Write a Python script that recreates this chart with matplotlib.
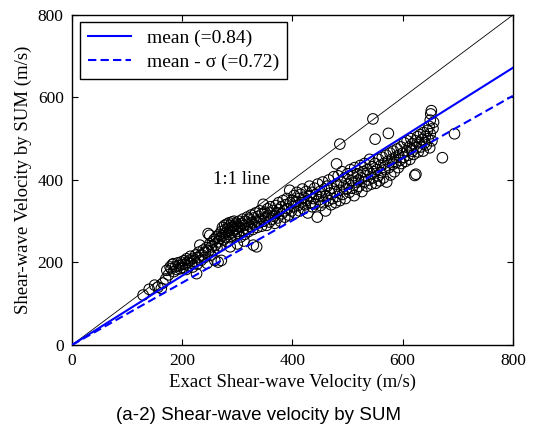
import matplotlib
matplotlib.use("Agg")
import matplotlib.pyplot as plt

# exact vs estimated shear-wave velocity (m/s)
vs_exact = [129, 140, 150, 156, 162, 165, 170, 172, 175, 178,
            180, 182, 184, 185, 188, 190, 192, 194, 196, 198, 200, 201, 203, 205, 207, 208, 210, 212, 214, 215,
            217, 219, 220, 222, 224, 226, 227, 229, 230, 232,
            234, 236, 238, 240, 242, 244, 245, 247, 248, 250, 250, 252, 253, 255, 256, 258, 259, 260, 262, 263,
            265, 265, 267, 268, 270, 271, 272, 273, 275, 276, 277, 278, 279, 280, 281, 282, 283, 284, 285, 286,
            287, 288, 289, 290, 291, 292, 293, 294, 295, 296, 297, 298, 299, 300,
            271, 287, 300, 312, 329, 335,
            302, 303, 305, 306, 308, 309, 310, 312, 313, 315, 316, 318, 319, 320, 322, 323, 325, 326, 328, 330,
            331, 333, 334, 336, 338, 339, 341, 342, 344, 345, 347, 348, 350, 351, 353, 355, 356, 358, 360, 361,
            363, 365, 366, 368, 370, 371, 373, 375, 376, 378, 380, 381, 383, 385, 386, 388, 390, 391, 393, 395,
            396, 398, 400,
            402, 403, 405, 407, 408, 410, 412, 413, 415, 416, 418, 420, 421, 423, 425, 426, 428, 430, 431, 433,
            435, 436, 438, 440, 441, 443, 445, 446, 448, 450, 451, 453, 455, 456, 458, 460, 461, 463, 465, 466,
            468, 470, 471, 473, 475, 476, 478, 480, 480, 481, 483, 485, 486, 486, 488, 490, 491, 493, 495, 496,
            498, 500,
            502, 503, 505, 507, 508, 510, 512, 513, 515, 516, 518, 520, 521, 523, 525, 526, 528, 530, 531, 533,
            535, 536, 538, 540, 541, 543, 545, 546, 546, 548, 550, 550, 551, 553, 555, 556, 558, 560, 561, 563,
            565, 566, 568, 570, 571, 573, 574, 575, 577, 578, 580, 582, 583, 585, 587, 588, 590, 592, 593, 595,
            597, 598, 600,
            602, 603, 605, 607, 608, 610, 612, 613, 615, 617, 618, 620, 622, 623, 624, 625, 627, 628, 630, 632,
            633, 635, 637, 638, 640, 641, 643, 645, 646, 648, 649, 650, 650, 651, 652, 653, 655, 656, 672, 694]
vs_sum = [121, 135, 145, 140, 137, 150, 160, 181, 170, 189,
          185, 195, 197, 178, 190, 183, 199, 192, 185, 201, 195, 188, 204, 196, 183, 209, 200, 192, 206, 215,
          198, 189, 210, 203, 218, 173, 196, 212, 225, 242,
          205, 218, 230, 212, 224, 236, 198, 270, 228, 245, 266, 218, 238, 250, 230, 256, 205, 242, 262, 235,
          201, 250, 268, 258, 240, 275, 264, 285, 255, 270, 290, 280, 262, 272, 293, 250, 283, 268, 296, 278,
          290, 260, 284, 298, 272, 287, 278, 300, 265, 290, 282, 295, 275, 288,
          205, 238, 245, 252, 242, 238,
          270, 300, 285, 262, 295, 278, 305, 290, 268, 300, 282, 310, 293, 275, 305, 288, 315, 296, 280, 308,
          292, 320, 300, 285, 312, 296, 325, 305, 288, 318, 341, 300, 322, 308, 290, 330, 314, 298, 335, 320,
          305, 326, 312, 295, 338, 320, 308, 345, 328, 300, 335, 318, 350, 325, 310, 340, 355, 330, 315, 375,
          345, 325, 350,
          335, 362, 320, 348, 370, 338, 355, 325, 365, 345, 378, 330, 358, 340, 372, 350, 320, 362, 385, 345,
          370, 335, 355, 380, 342, 365, 310, 390, 352, 372, 338, 360, 395, 345, 378, 325, 362, 385, 350, 400,
          368, 340, 380, 355, 408, 372, 345, 439, 390, 360, 410, 375, 487, 350, 395, 420, 365, 385, 405, 355,
          378, 415,
          390, 370, 425, 398, 380, 410, 362, 430, 395, 378, 415, 400, 385, 435, 405, 372, 420, 395, 440, 410,
          385, 425, 400, 450, 415, 390, 432, 548, 405, 420, 499, 440, 392, 425, 410, 450, 398, 435, 418, 455,
          405, 440, 425, 460, 395, 445, 513, 430, 465, 412, 450, 438, 470, 420, 455, 442, 475, 430, 460, 448,
          480, 440, 465,
          455, 490, 445, 470, 495, 460, 480, 450, 500, 470, 488, 462, 411, 495, 414, 478, 505, 468, 490, 510,
          480, 498, 470, 515, 490, 505, 485, 520, 500, 530, 478, 545, 512, 560, 568, 495, 525, 540, 454, 512]

ratio_mean = 0.84
ratio_low = 0.755   # drawn slope of the dashed line
line_x = [0, 800]

plt.rcParams['font.family'] = ['Liberation Serif', 'DejaVu Serif']
fig = plt.figure(figsize=(5.39, 4.28), dpi=100)
ax = fig.add_axes([0.1336, 0.194, 0.818, 0.771])

ax.scatter(vs_exact, vs_sum, s=58, facecolors='none', edgecolors='black', linewidths=0.75, zorder=2)
ax.plot(line_x, line_x, color='black', linewidth=0.6, zorder=3)
ax.plot(line_x, [ratio_mean * v for v in line_x], color='blue', linewidth=1.5,
        label='mean (=0.84)', zorder=4)
ax.plot(line_x, [ratio_low * v for v in line_x], color='blue', linewidth=1.5, linestyle=(0, (4, 2)),
        label='mean - σ (=0.72)', zorder=4)
ax.text(256, 400, '1:1 line', fontsize=13.5, va='center', ha='left')

ax.set_xlim(0, 800)
ax.set_ylim(0, 800)
ax.set_xticks([0, 200, 400, 600, 800])
ax.set_yticks([0, 200, 400, 600, 800])
ax.tick_params(direction='in', top=True, right=True, length=4.5, width=0.8, labelsize=12.5, pad=6)
for sp in ax.spines.values():
    sp.set_linewidth(1.0)
ax.set_xlabel('Exact Shear-wave Velocity (m/s)', fontsize=13.5, labelpad=3)
ax.set_ylabel('Shear-wave Velocity by SUM (m/s)', fontsize=13.5, labelpad=4)

leg = ax.legend(loc='upper left', bbox_to_anchor=(0.018, 0.979), borderaxespad=0, fontsize=14,
                fancybox=False, edgecolor='black', framealpha=1, handlelength=2.2, handletextpad=0.85,
                borderpad=0.4, labelspacing=0.3)
leg.get_frame().set_linewidth(1.0)

fig.text(0.479, 0.030, '(a-2) Shear-wave velocity by SUM', fontsize=13.5, family='Liberation Sans',
         ha='center', va='center')

fig.savefig('out.png', dpi=100)
